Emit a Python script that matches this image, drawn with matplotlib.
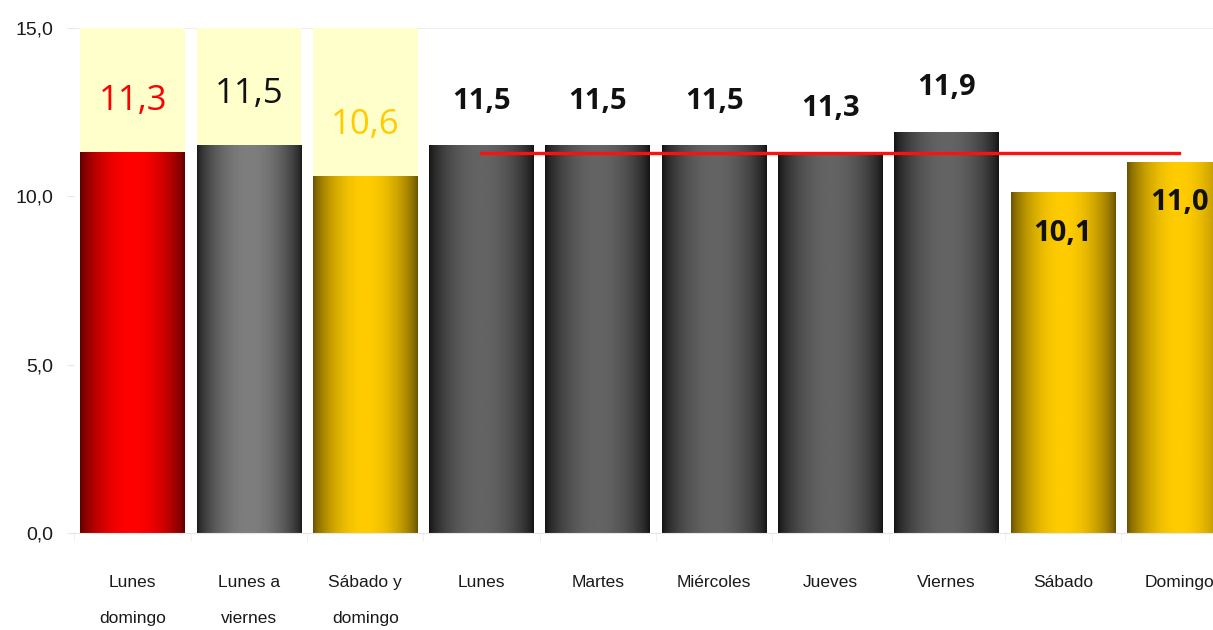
import numpy as np
import matplotlib
matplotlib.use("Agg")
import matplotlib.pyplot as plt
from matplotlib.colors import LinearSegmentedColormap

# datos del grafico
categorias = ["Lunes\ndomingo", "Lunes a\nviernes", "Sábado y\ndomingo", "Lunes", "Martes",
              "Miércoles", "Jueves", "Viernes", "Sábado", "Domingo"]
valores = [11.3, 11.5, 10.6, 11.5, 11.5, 11.5, 11.3, 11.9, 10.1, 11.0]
tipo = ["rojo", "gris", "amarillo", "negro", "negro", "negro", "negro", "negro", "amarillo", "amarillo"]
promedio = 11.3
yticks = [0, 5, 10, 15]

# colores de borde y centro para el degradado horizontal
degradados = {
    "rojo": ("#5c0000", "#ff0000"),
    "gris": ("#1a1a1a", "#7e7e7e"),
    "negro": ("#121212", "#646464"),
    "amarillo": ("#655000", "#ffcc00"),
}
color_etiqueta = {"rojo": "#ff0000", "gris": "#111111", "amarillo": "#ffcc00"}

fuente = ["Liberation Sans", "DejaVu Sans"]
fuente_valores = ["Open Sans", "DejaVu Sans"]

fig = plt.figure(figsize=(12.13, 6.30), dpi=100)
ax = fig.add_axes([0.0614, 0.154, 0.9587, 0.8016])

x = np.arange(len(categorias))
ancho = 0.9

# fondo amarillo claro sobre las tres primeras barras
ax.bar(x[:3], [15 - v for v in valores[:3]], bottom=valores[:3], width=ancho,
       color="#ffffcc", zorder=1)

barras = ax.bar(x, valores, width=ancho, color="none", edgecolor="none", zorder=2)

u = np.linspace(0, 1, 200)
perfil = np.sin(np.pi * u) ** 0.7
for b, t in zip(barras, tipo):
    c0, c1 = degradados[t]
    cmap = LinearSegmentedColormap.from_list(t, [c0, c1])
    x0, w, h = b.get_x(), b.get_width(), b.get_height()
    ax.imshow(perfil[np.newaxis, :], cmap=cmap, vmin=0, vmax=1, aspect="auto",
              extent=[x0, x0 + w, 0, h], zorder=2, interpolation="bicubic")

# linea del promedio
ax.plot([x[3], x[-1]], [promedio, promedio], color="#ff1010", lw=2.4, zorder=4)

# etiquetas de valores
for i, (v, t) in enumerate(zip(valores, tipo)):
    txt = f"{v:.1f}".replace(".", ",")
    if i < 3:
        ax.annotate(txt, (x[i], v), xytext=(0, 37), textcoords="offset points",
                    ha="center", va="center", fontsize=25, family=fuente_valores,
                    color=color_etiqueta[t], zorder=5)
    elif t == "amarillo":
        ax.annotate(txt, (x[i], v), xytext=(0, -29), textcoords="offset points",
                    ha="center", va="center", fontsize=21, family=fuente_valores,
                    fontweight="bold", color="#111111", zorder=5)
    else:
        ax.annotate(txt, (x[i], v), xytext=(0, 32), textcoords="offset points",
                    ha="center", va="center", fontsize=21, family=fuente_valores,
                    fontweight="bold", color="#111111", zorder=5)

ax.set_xlim(-0.5, len(categorias) - 0.5)
ax.set_ylim(0, 15)
ax.set_xticks(x)
ax.set_xticklabels(categorias, family=fuente, fontsize=12.5, color="#1a1a1a",
                   linespacing=2.8)
ax.set_yticks(yticks)
ax.set_yticklabels([f"{v:.1f}".replace(".", ",") for v in yticks], family=fuente,
                   fontsize=14, color="#1a1a1a")
ax.tick_params(axis="x", length=0, pad=30)
ax.tick_params(axis="y", length=5, color="#e6e6e6", pad=10)
ax.set_xticks(np.arange(-0.5, len(categorias), 1), minor=True)
ax.tick_params(axis="x", which="minor", length=6, color="#eeeeee")

ax.axhline(15, color="#eeeeee", lw=1.5, zorder=0)
for s in ["top", "right", "left"]:
    ax.spines[s].set_visible(False)
ax.spines["bottom"].set_color("#e6e6e6")

fig.savefig("out.png", dpi=100)
